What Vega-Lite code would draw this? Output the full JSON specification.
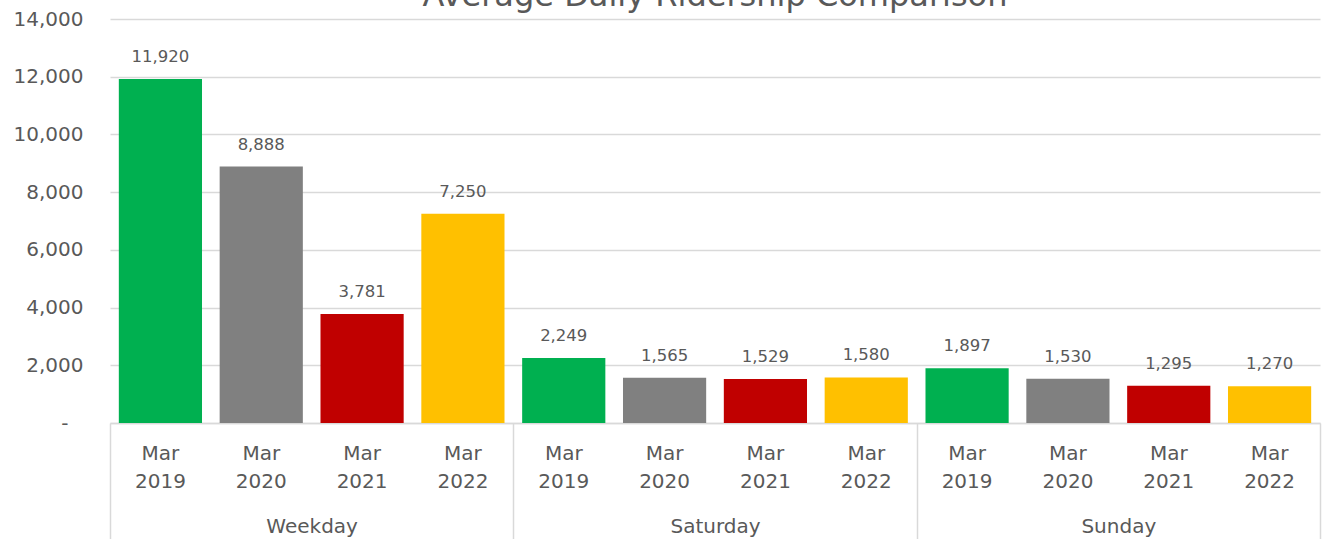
{
  "$schema": "https://vega.github.io/schema/vega-lite/v6.json",
  "width": 1210,
  "height": 404,
  "autosize": {"type": "none"},
  "padding": {"left": 110, "top": 19, "right": 5, "bottom": 116},
  "background": "white",
  "config": {"view": {"stroke": null}, "font": "DejaVu Sans"},
  "title": {"text": "Average Daily Ridership Comparison", "fontSize": 32, "font": "DejaVu Sans", "fontWeight": "normal", "color": "#595959", "anchor": "middle", "offset": -4},
  "datasets": {
    "bars": [
      {"group": "Weekday", "period": "Mar 2019", "key": "Weekday|Mar 2019", "value": 11920},
      {"group": "Weekday", "period": "Mar 2020", "key": "Weekday|Mar 2020", "value": 8888},
      {"group": "Weekday", "period": "Mar 2021", "key": "Weekday|Mar 2021", "value": 3781},
      {"group": "Weekday", "period": "Mar 2022", "key": "Weekday|Mar 2022", "value": 7250},
      {"group": "Saturday", "period": "Mar 2019", "key": "Saturday|Mar 2019", "value": 2249},
      {"group": "Saturday", "period": "Mar 2020", "key": "Saturday|Mar 2020", "value": 1565},
      {"group": "Saturday", "period": "Mar 2021", "key": "Saturday|Mar 2021", "value": 1529},
      {"group": "Saturday", "period": "Mar 2022", "key": "Saturday|Mar 2022", "value": 1580},
      {"group": "Sunday", "period": "Mar 2019", "key": "Sunday|Mar 2019", "value": 1897},
      {"group": "Sunday", "period": "Mar 2020", "key": "Sunday|Mar 2020", "value": 1530},
      {"group": "Sunday", "period": "Mar 2021", "key": "Sunday|Mar 2021", "value": 1295},
      {"group": "Sunday", "period": "Mar 2022", "key": "Sunday|Mar 2022", "value": 1270}
    ],
    "groups": [
      {"group": "Weekday"},
      {"group": "Saturday"},
      {"group": "Sunday"}
    ]
  },
  "layer": [
    {
      "data": {"name": "bars"},
      "encoding": {
        "x": {
          "field": "key", "type": "nominal", "sort": null,
          "scale": {"paddingInner": 0.175, "paddingOuter": 0.0875},
          "axis": {
            "orient": "bottom", "title": null, "ticks": false, "grid": false,
            "domainColor": "#D9D9D9", "domainWidth": 1.5,
            "labelExpr": "split(split(datum.value, '|')[1], ' ')",
            "labelAngle": 0, "labelFont": "DejaVu Sans", "labelFontSize": 20,
            "labelColor": "#595959", "labelLineHeight": 28, "labelPadding": 20,
            "labelBaseline": "top"
          }
        },
        "y": {
          "field": "value", "type": "quantitative",
          "scale": {"domain": [0, 14000], "nice": false},
          "axis": {
            "title": null, "values": [0, 2000, 4000, 6000, 8000, 10000, 12000, 14000],
            "labelExpr": "datum.value == 0 ? '-' : format(datum.value, ',')",
            "domain": false, "ticks": false,
            "gridColor": "#D9D9D9", "gridWidth": 1.5,
            "labelFont": "DejaVu Sans", "labelFontSize": 20, "labelColor": "#595959",
            "labelPadding": {"condition": {"test": "datum.value == 0", "value": 42}, "value": 27}
          }
        }
      },
      "layer": [
        {
          "mark": {"type": "bar"},
          "encoding": {
            "color": {
              "field": "period", "type": "nominal", "legend": null,
              "scale": {"domain": ["Mar 2019", "Mar 2020", "Mar 2021", "Mar 2022"], "range": ["#00B050", "#808080", "#C00000", "#FFC000"]}
            }
          }
        },
        {
          "mark": {"type": "text", "font": "DejaVu Sans", "fontSize": 16.5, "color": "#595959", "baseline": "alphabetic", "dy": -17},
          "encoding": {"text": {"field": "value", "type": "quantitative", "format": ","}}
        }
      ]
    },
    {
      "data": {"name": "groups"},
      "mark": {"type": "point", "opacity": 0},
      "encoding": {
        "x": {
          "field": "group", "type": "nominal", "sort": null,
          "scale": {"padding": 0},
          "axis": {
            "orient": "bottom", "title": null, "grid": false, "domain": false,
            "tickBand": "extent", "tickSize": 116, "tickColor": "#D9D9D9", "tickWidth": 1.5,
            "labelAngle": 0, "labelFont": "DejaVu Sans", "labelFontSize": 20,
            "labelColor": "#595959", "labelPadding": -23, "labelBaseline": "top"
          }
        }
      }
    }
  ],
  "resolve": {"scale": {"x": "independent"}, "axis": {"x": "independent"}}
}
